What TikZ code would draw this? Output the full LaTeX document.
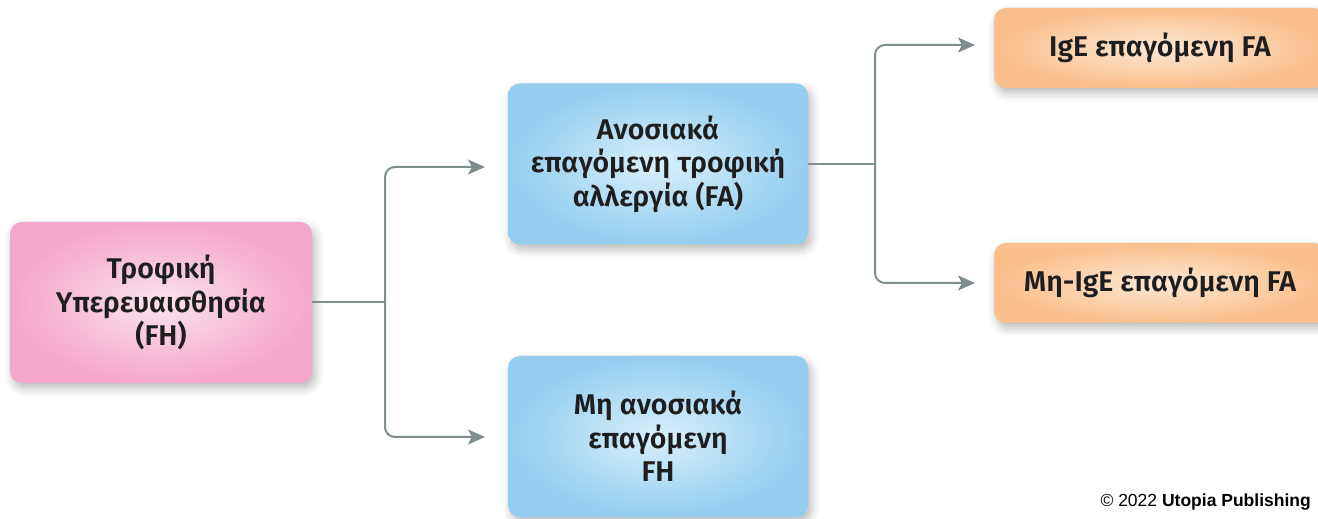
\documentclass[tikz,border=0pt]{standalone}
\usepackage{fontspec}
\newfontfamily\labfont{Fira Sans}[UprightFont={* SemiBold}]
\newfontfamily\notefont{Liberation Sans}
\usetikzlibrary{arrows.meta,shadows.blur}

\definecolor{pinkin}{HTML}{FBE3EE}
\definecolor{pinkout}{HTML}{F4A7CA}
\definecolor{bluein}{HTML}{D9F0FC}
\definecolor{blueout}{HTML}{93CDEF}
\definecolor{orangein}{HTML}{FDE8D4}
\definecolor{orangeout}{HTML}{F9BF8C}
\definecolor{linkgray}{HTML}{7E8D8D}
\definecolor{labtext}{HTML}{1E1E1E}

\begin{document}
\begin{tikzpicture}[x=1pt,y=1pt,
  box/.style={rounded corners=12pt, align=center, inner sep=0pt,
    font=\labfont\fontsize{28.5}{33.5}\selectfont, text=labtext,
    blur shadow={shadow xshift=3pt, shadow yshift=-5pt,
      shadow blur radius=9pt, shadow opacity=28}},
  pinkbox/.style={box, inner color=pinkin, outer color=pinkout,
    minimum width=302pt, minimum height=161pt},
  bluebox/.style={box, inner color=bluein, outer color=blueout,
    minimum width=300pt, minimum height=161pt},
  orangebox/.style={box, inner color=orangein, outer color=orangeout,
    minimum width=332pt, minimum height=80pt},
  trunk/.style={draw=linkgray, line width=2pt},
  link/.style={draw=linkgray, line width=2pt, rounded corners=10pt,
    -{Stealth[length=17pt,width=15pt,inset=4pt]}}
]
\useasboundingbox (0,0) rectangle (1318,519);

% boxes
\node[pinkbox] (fh) at (161,216.5) {Τροφική\\Υπερευαισθησία\\(FH)};
\node[bluebox] (fa) at (658,355) {Ανοσιακά\\επαγόμενη τροφική\\αλλεργία (FA)};
\node[bluebox] (nfh) at (658,82.5) {Μη ανοσιακά\\επαγόμενη\\FH};
\node[orangebox] (ige) at (1160,471) {IgE επαγόμενη FA};
\node[orangebox] (nige) at (1160,236) {Μη-IgE επαγόμενη FA};

% branch points and arrow ends
\coordinate (j1) at (385,216.5);
\coordinate (t1) at (485,352);
\coordinate (t2) at (485,82);
\coordinate (j2) at (875,355);
\coordinate (t3) at (975,474);
\coordinate (t4) at (975,236);

\draw[trunk] (fh.east) -- (j1);
\draw[link] (j1) |- (t1);
\draw[link] (j1) |- (t2);
\draw[trunk] (fa.east) -- (j2);
\draw[link] (j2) |- (t3);
\draw[link] (j2) |- (t4);

% credit line
\node[anchor=base east, inner sep=0pt, font=\notefont\fontsize{17.5}{20}\selectfont]
  (credit) at (1311,12) {© 2022 \textbf{Utopia Publishing}};
\end{tikzpicture}
\end{document}
